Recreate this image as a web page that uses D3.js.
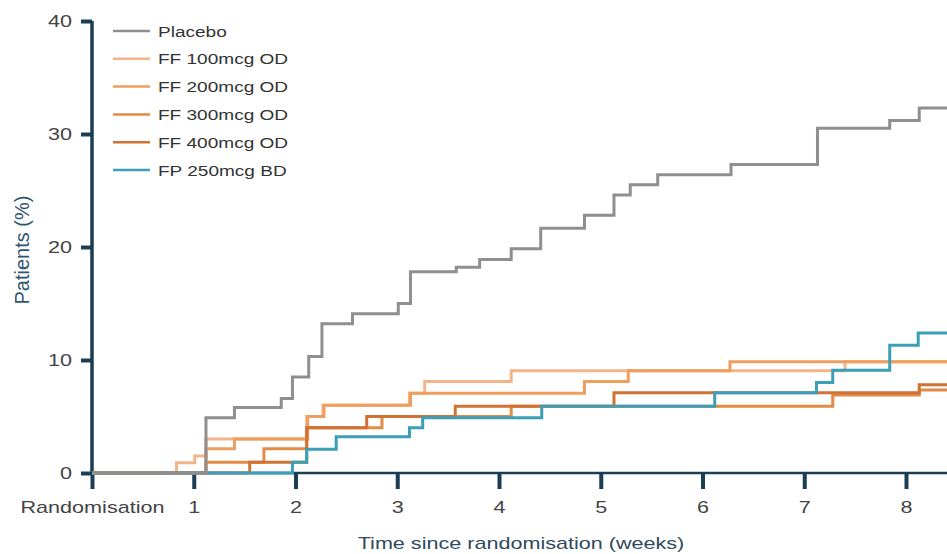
<!DOCTYPE html>
<html>
<head>
<meta charset="utf-8">
<script src="https://cdn.jsdelivr.net/npm/d3@7"></script>
<style>
  body { margin: 0; background: #fff; }
  text { font-family: "Liberation Sans", Arial, sans-serif; }
</style>
</head>
<body>
<div id="km-chart"></div>
<script>
// Time to event (cumulative %), step curves
var seriesNames = ["Placebo", "FF 100mcg OD", "FF 200mcg OD", "FF 300mcg OD", "FF 400mcg OD", "FP 250mcg BD"]

// [week, patients %]
var placebo = [[0,0],[1.12,4.9],[1.40,5.8],[1.86,6.6],[1.97,8.5],[2.13,10.3],[2.26,13.2],[2.56,14.1],[3.01,15.0],[3.13,17.8],[3.58,18.2],[3.81,18.9],[4.12,19.85],[4.41,21.65],[4.84,22.8],[5.13,24.6],[5.29,25.5],[5.56,26.4],[6.28,27.3],[7.13,30.5],[7.84,31.2],[8.13,32.3]]
var ff100 = [[0,0],[0.83,0.9],[1.01,1.5],[1.12,3.0],[2.11,5.0],[2.27,6.0],[3.12,7.05],[3.27,8.1],[4.12,9.05],[7.40,9.85]]
var ff200 = [[0,0],[1.12,2.15],[1.40,3.0],[2.12,5.0],[2.28,6.0],[3.13,7.05],[4.84,8.1],[5.27,9.05],[6.27,9.85]]
var ff300 = [[0,0],[1.12,0.95],[1.69,2.15],[2.11,4.0],[2.85,5.0],[4.12,5.9],[7.28,6.9],[8.13,7.35]]
var ff400 = [[0,0],[1.55,0.95],[2.11,4.0],[2.70,5.0],[3.57,5.9],[5.13,7.1],[8.13,7.8]]
var fp250 = [[0,0],[1.97,0.95],[2.11,2.1],[2.40,3.2],[3.12,4.0],[3.25,4.9],[4.42,5.9],[6.12,7.1],[7.12,8.0],[7.28,9.1],[7.84,11.3],[8.12,12.4]]

var xTicks = [0, 1, 2, 3, 4, 5, 6, 7, 8]
var xTickLabels = ["Randomisation", "1", "2", "3", "4", "5", "6", "7", "8"]
var yTicks = [0, 10, 20, 30, 40]

var Chart = {}
// the original artwork is stretched sideways, so horizontal text gets widened
var TEXT_STRETCH = 1.27

function SetUpGraph(){
  Chart.w = 947
  Chart.h = 554
  Chart.xEnd = 8.45

  Chart.x = d3.scaleLinear().domain([0, 8]).range([92, 906])
  Chart.y = d3.scaleLinear().domain([0, 40]).range([473, 21])

  Chart.svg = d3.select("#km-chart").append("svg")
    .attr("width", Chart.w)
    .attr("height", Chart.h)
}

// plain horizontal label, widened around its anchor point
function AddText(x, y, str, size, fill, anchor){
  Chart.svg.append("text")
    .attr("transform", "translate(" + x + "," + y + ") scale(" + TEXT_STRETCH + ",1)")
    .attr("text-anchor", anchor || "start")
    .attr("fill", fill)
    .style("font-size", size + "px")
    .text(str)
}

// axes: thick navy spine with heavy tick marks
function DrawAxes(){
  var svg = Chart.svg, x = Chart.x, y = Chart.y
  var navy = "#1b3e54"

  var yAxis = svg.append("g")
    .attr("transform", "translate(92,0)")
    .call(d3.axisLeft(y).tickValues(yTicks).tickSize(11))
  yAxis.select(".domain").attr("stroke", navy).attr("stroke-width", 3.5)
    .attr("d", "M0," + y(40) + "V" + (y(0) + 1))
  yAxis.selectAll(".tick line").attr("stroke", navy).attr("stroke-width", 4)
  yAxis.selectAll(".tick text")
    .attr("x", -20 / TEXT_STRETCH)
    .attr("transform", "scale(" + TEXT_STRETCH + ",1)")
    .attr("fill", "#444").style("font-size", "17px")

  var xAxis = svg.append("g")
    .attr("transform", "translate(0,473)")
    .call(d3.axisBottom(x).tickValues(xTicks).tickSize(16).tickPadding(12)
      .tickFormat(function(d, i){ return xTickLabels[i] }))
  xAxis.select(".domain").attr("stroke", navy).attr("stroke-width", 2.5)
    .attr("d", "M" + x(0) + ",0H" + x(Chart.xEnd))
  xAxis.selectAll(".tick line").attr("stroke", navy).attr("stroke-width", 4)
  xAxis.selectAll(".tick text")
    .attr("transform", "scale(" + TEXT_STRETCH + ",1)")
    .attr("fill", "#444").style("font-size", "17px")

  AddText(521, 549, "Time since randomisation (weeks)", 17, "#2f4a5c", "middle")

  svg.append("text")
    .attr("transform", "translate(29,250) rotate(-90)")
    .attr("text-anchor", "middle")
    .attr("fill", "#2f5470")
    .style("font-size", "20px")
    .text("Patients (%)")
}

// one step curve, extended flat to the right edge
function AddCurve(data, colour){
  var pts = data.concat([[Chart.xEnd, data[data.length - 1][1]]])
  var line = d3.line()
    .x(function(d){ return Chart.x(d[0]) })
    .y(function(d){ return Chart.y(d[1]) })
    .curve(d3.curveStepAfter)

  Chart.svg.append("path")
    .datum(pts)
    .attr("d", line)
    .attr("fill", "none")
    .attr("stroke", colour)
    .attr("stroke-width", 3)
}

function AddLegend(colours){
  seriesNames.forEach(function(name, i){
    var cy = 31 + i * 27.8
    Chart.svg.append("line")
      .attr("x1", 113).attr("x2", 150)
      .attr("y1", cy).attr("y2", cy)
      .attr("stroke", colours[i])
      .attr("stroke-width", 2.5)
    AddText(158, cy + 5.5, name, 15, "#333")
  })
}

var colours = ["#8f8f8f", "#f3b48a", "#ef9e5e", "#e38a45", "#cf7233", "#3c9fb8"]

SetUpGraph()
DrawAxes()
AddCurve(ff100, colours[1])
AddCurve(ff200, colours[2])
AddCurve(ff300, colours[3])
AddCurve(ff400, colours[4])
AddCurve(fp250, colours[5])
AddCurve(placebo, colours[0])
AddLegend(colours)
</script>
</body>
</html>
